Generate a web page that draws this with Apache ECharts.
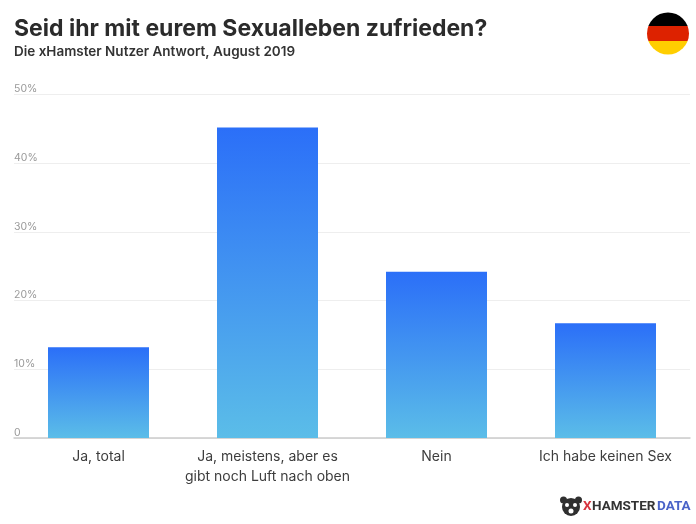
<!DOCTYPE html>
<html>
  <head>
    <meta charset="utf-8">
    <title>Sexualleben</title>
    <script src="https://cdn.jsdelivr.net/npm/echarts@6/dist/echarts.min.js"></script>
    <style>
      html, body { margin: 0; padding: 0; background: #fff; }
      #main { width: 696px; height: 524px; }
    </style>
  </head>
  <body>
    <div id="main"></div>
    <script>
      var categories = ['Ja, total', 'Ja, meistens, aber es\ngibt noch Luft nach oben', 'Nein', 'Ich habe keinen Sex'];
      var answers = [13.2, 45.2, 24.2, 16.7];
      var tickLabels = {0: '0', 10: '10%', 20: '20%', 30: '30%', 40: '40%', 50: '50%'};
      var titleText = 'Seid ihr mit eurem Sexualleben zufrieden?';
      var subtitleText = 'Die xHamster Nutzer Antwort, August 2019';

      var font = 'Inter';
      var myChart = echarts.init(document.getElementById('main'));

      // flag: one circle with hard colour stops
      var flag = new echarts.graphic.LinearGradient(0, 0, 0, 1, [
        {offset: 0, color: '#000000'}, {offset: 0.333, color: '#000000'},
        {offset: 0.333, color: '#dd2200'}, {offset: 0.667, color: '#dd2200'},
        {offset: 0.667, color: '#ffce00'}, {offset: 1, color: '#ffce00'}
      ]);

      myChart.setOption({
        animation: false,
        backgroundColor: '#ffffff',
        title: [
          {text: titleText, left: 9, top: 13, textStyle: {fontFamily: font, fontSize: 23, fontWeight: 700, color: '#2b2b2b'}},
          {text: subtitleText, left: 9, top: 40, textStyle: {fontFamily: font, fontSize: 13.5, fontWeight: 600, color: '#333333'}}
        ],
        grid: {left: 14, right: 6, top: 94.5, bottom: 86},
        xAxis: {
          type: 'category',
          data: categories,
          axisTick: {show: false},
          axisLine: {lineStyle: {color: '#cccccc', width: 1.5}},
          axisLabel: {fontFamily: font, fontSize: 14, color: '#3d3d3d', lineHeight: 20, margin: 9, interval: 0}
        },
        yAxis: {
          type: 'value',
          min: 0,
          max: 50,
          interval: 10,
          axisLine: {show: false},
          axisTick: {show: false},
          splitLine: {lineStyle: {color: '#eeeeee', width: 1}},
          axisLabel: {
            inside: true,
            margin: 0,
            verticalAlign: 'bottom',
            fontFamily: font,
            fontSize: 10.5,
            color: '#999999',
            formatter: function (v) { return tickLabels[v]; }
          }
        },
        series: [{
          type: 'bar',
          data: answers,
          barWidth: 101,
          itemStyle: {
            color: new echarts.graphic.LinearGradient(0, 0, 0, 1, [
              {offset: 0, color: '#2b6ff8'},
              {offset: 1, color: '#5bbde8'}
            ])
          }
        }],
        graphic: [
          {type: 'circle', shape: {cx: 668, cy: 33.5, r: 21}, style: {fill: flag}},
          // logo
          {type: 'circle', shape: {cx: 571, cy: 507, r: 9}, style: {fill: '#2f2f2f'}},
          {type: 'circle', shape: {cx: 563.5, cy: 500, r: 3.5}, style: {fill: '#2f2f2f'}},
          {type: 'circle', shape: {cx: 578.5, cy: 500, r: 3.5}, style: {fill: '#2f2f2f'}},
          {type: 'circle', shape: {cx: 567, cy: 505, r: 2}, style: {fill: '#ffffff'}},
          {type: 'circle', shape: {cx: 575, cy: 505, r: 2}, style: {fill: '#ffffff'}},
          {type: 'circle', shape: {cx: 571, cy: 511, r: 2.5}, style: {fill: '#ffffff'}},
          {type: 'text', left: 583, top: 500, style: {text: 'X', fontFamily: 'Roboto', fontWeight: 700, fontSize: 13.5, fill: '#d8343f'}},
          {type: 'text', left: 592, top: 500, style: {text: 'HAMSTER', fontFamily: 'Roboto', fontWeight: 700, fontSize: 13.5, fill: '#333333'}},
          {type: 'text', left: 657, top: 500, style: {text: 'DATA', fontFamily: 'Roboto', fontWeight: 700, fontSize: 13.5, fill: '#4a63c8'}}
        ]
      });
    </script>
  </body>
</html>
